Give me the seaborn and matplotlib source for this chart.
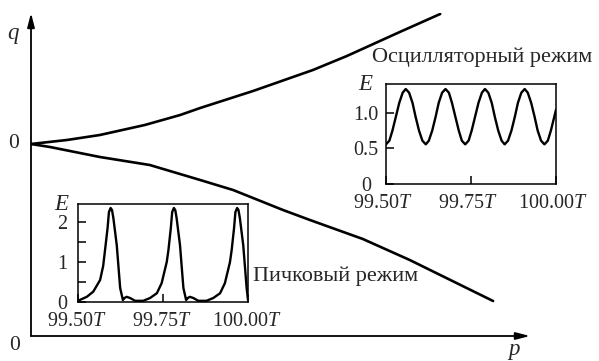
import numpy as np
import pandas as pd
import matplotlib
matplotlib.use('Agg')
import matplotlib.pyplot as plt
import matplotlib.transforms as mtransforms
import seaborn as sns

# главные кривые q(p): верхняя и нижняя ветви
p_upper = [0, 0.072, 0.138, 0.228, 0.299, 0.339, 0.445, 0.565, 0.633, 0.739, 0.820]
q_upper = [0, 0.04, 0.09, 0.19, 0.29, 0.36, 0.53, 0.74, 0.88, 1.12, 1.30]
p_lower = [0, 0.038, 0.138, 0.238, 0.339, 0.405, 0.505, 0.559, 0.665, 0.759, 0.926]
q_lower = [0, -0.03, -0.13, -0.21, -0.36, -0.46, -0.66, -0.76, -0.95, -1.16, -1.57]

# осцилляторный режим E(t)
t_osc = [99.500, 99.510, 99.519, 99.529, 99.539, 99.549, 99.558, 99.568, 99.578, 99.587,
         99.597, 99.607, 99.617, 99.626, 99.636, 99.646, 99.655, 99.665, 99.675, 99.685,
         99.694, 99.704, 99.714, 99.723, 99.733, 99.743, 99.752, 99.762, 99.772, 99.782,
         99.791, 99.801, 99.811, 99.820, 99.830, 99.840, 99.849, 99.859, 99.869, 99.879,
         99.888, 99.898, 99.908, 99.917, 99.927, 99.937, 99.946, 99.956, 99.966, 99.976,
         99.985, 99.995, 100.000]
e_osc = [0.555, 0.607, 0.749, 0.942, 1.136, 1.278, 1.330, 1.278, 1.136, 0.942,
         0.749, 0.607, 0.555, 0.607, 0.749, 0.942, 1.136, 1.278, 1.330, 1.278,
         1.136, 0.942, 0.749, 0.607, 0.555, 0.607, 0.749, 0.942, 1.136, 1.278,
         1.330, 1.278, 1.136, 0.942, 0.749, 0.607, 0.555, 0.607, 0.749, 0.942,
         1.136, 1.278, 1.330, 1.278, 1.136, 0.942, 0.749, 0.607, 0.555, 0.607,
         0.749, 0.942, 1.040]

# пичковый режим E(t)
t_spk = [99.500, 99.513, 99.526, 99.545, 99.565, 99.574, 99.579, 99.587, 99.591, 99.596,
         99.600, 99.604, 99.614, 99.624, 99.632, 99.637, 99.643, 99.653, 99.668, 99.692,
         99.712, 99.732, 99.746, 99.761, 99.766, 99.773, 99.777, 99.782, 99.786, 99.790,
         99.800, 99.810, 99.818, 99.823, 99.829, 99.839, 99.854, 99.878, 99.898, 99.918,
         99.932, 99.947, 99.952, 99.959, 99.963, 99.968, 99.972, 99.976, 99.986, 99.996,
         100.000]
e_spk = [0.03, 0.08, 0.13, 0.26, 0.55, 0.90, 1.26, 1.85, 2.25, 2.35,
         2.30, 2.10, 1.42, 0.35, 0.05, 0.10, 0.13, 0.10, 0.03, 0.03,
         0.10, 0.22, 0.47, 1.00, 1.30, 1.85, 2.25, 2.35, 2.30, 2.10,
         1.42, 0.35, 0.05, 0.10, 0.13, 0.10, 0.03, 0.03, 0.10, 0.22,
         0.47, 1.00, 1.30, 1.85, 2.25, 2.35, 2.30, 2.10, 1.42, 0.35,
         0.05]

t_ticks = [99.50, 99.75, 100.00]
t_labels = ['99.50$T$', '99.75$T$', '100.00$T$']

sns.set_theme(style='white')
plt.rcParams['font.family'] = ['Liberation Serif', 'DejaVu Serif']
plt.rcParams['mathtext.fontset'] = 'custom'
plt.rcParams['mathtext.rm'] = 'Liberation Serif'
plt.rcParams['mathtext.it'] = 'Liberation Serif:italic'

W, H = 599, 361
fig = plt.figure(figsize=(W / 100, H / 100), dpi=100)
fig.patch.set_facecolor('white')


def fx(px):
    return px / W


def fy(py):
    return 1 - py / H


FS = 15.5
TFS = 14.5

# основная система координат
ax = fig.add_axes([fx(31), fy(336), fx(530) - fx(31), fy(13) - fy(336)])
ax.set_facecolor('none')
df_up = pd.DataFrame({'p': p_upper, 'q': q_upper})
df_lo = pd.DataFrame({'p': p_lower, 'q': q_lower})
sns.lineplot(data=df_up, x='p', y='q', ax=ax, color='black', lw=1.9, sort=False)
sns.lineplot(data=df_lo, x='p', y='q', ax=ax, color='black', lw=1.9, sort=False)
ax.set_xlim(0, 1)
ax.set_ylim(-1.92, 1.31)
for s in ax.spines.values():
    s.set_visible(False)
ax.set_xticks([])
ax.set_yticks([])
ax.set_xlabel('')
ax.set_ylabel('')
arrow = dict(arrowstyle='-|>,head_length=0.7,head_width=0.18', lw=1.3, color='black',
             shrinkA=0, shrinkB=0)
ax.annotate('', xy=(1, 0), xytext=(0, 0), xycoords='axes fraction', arrowprops=arrow)
ax.annotate('', xy=(0, 1), xytext=(0, 0), xycoords='axes fraction', arrowprops=arrow)

fig.text(fx(13), fy(35), '$q$', fontsize=FS + 1, ha='center', va='center')
fig.text(fx(514), fy(351), '$p$', fontsize=FS + 1, ha='center', va='center')
fig.text(fx(14), fy(144), '0', fontsize=FS, ha='center', va='center')
fig.text(fx(15), fy(345), '0', fontsize=FS, ha='center', va='center')
fig.text(fx(372), fy(57), 'Осцилляторный режим', fontsize=FS + 0.5, ha='left', va='center')
fig.text(fx(253), fy(276), 'Пичковый режим', fontsize=FS + 0.5, ha='left', va='center')


def inset(box, t, e, ylim, yticks, ylabels, ypad, xshift):
    l, t_, r, b = box
    a = fig.add_axes([fx(l), fy(b), fx(r) - fx(l), fy(t_) - fy(b)])
    a.set_facecolor('white')
    sns.lineplot(x=t, y=e, ax=a, color='black', lw=1.7, sort=False)
    a.set_xlim(99.5, 100.0)
    a.set_ylim(*ylim)
    for s in a.spines.values():
        s.set_visible(True)
        s.set_color('black')
        s.set_linewidth(1.1)
    a.set_xticks(t_ticks)
    a.set_xticklabels(t_labels)
    a.set_yticks(yticks)
    a.set_yticklabels(ylabels)
    a.tick_params(axis='both', direction='in', length=5.5, width=1.1, color='black',
                  labelsize=TFS, bottom=True, left=True)
    a.tick_params(axis='y', pad=ypad)
    a.tick_params(axis='x', pad=7.5)
    for lab in a.get_yticklabels():
        lab.set_ha('center')
    off = mtransforms.ScaledTranslation(xshift / 100, 0, fig.dpi_scale_trans)
    for lab in a.get_xticklabels():
        lab.set_transform(lab.get_transform() + off)
    a.set_xlabel('')
    a.set_ylabel('')
    a.text(-ypad / 72 * 100 / (r - l), 1.0, '$E$', transform=a.transAxes, fontsize=FS + 1,
           ha='center', va='center')
    return a


inset((386, 84, 556, 184), t_osc, e_osc, (0, 1.40), [0, 0.5, 1.0], ['0', '0.5', '1.0'], 14.5, -3)
inset((78, 204, 248, 302), t_spk, e_spk, (0, 2.45), [0, 0.5, 1, 1.5, 2], ['0', '', '1', '', '2'], 11.5, -1)

fig.savefig('out.png', dpi=100, facecolor='white')
